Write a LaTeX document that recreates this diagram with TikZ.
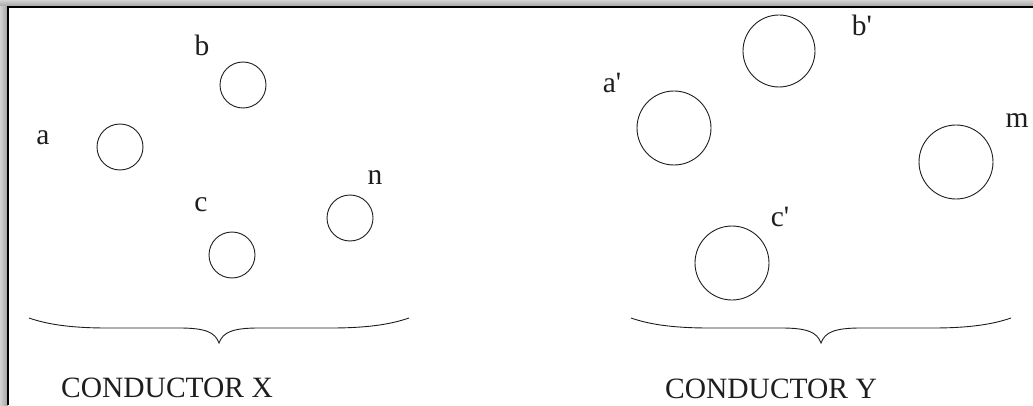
\documentclass[tikz,border=0pt]{standalone}
\usepackage{fontspec}
\setmainfont{Liberation Serif}[Ligatures=TeXOff]
\definecolor{ink}{HTML}{1E1E1E}

\begin{document}
\begin{tikzpicture}[x=1pt,y=1pt,font=\fontsize{29.5}{32}\selectfont,text=ink,wire/.style={draw=ink,line width=0.9pt},strand/.style={wire,circle,inner sep=0pt},small/.style={strand,minimum size=46pt},big/.style={strand,minimum size=74pt},lbl/.style={inner sep=0pt},
 grp/.pic={\draw[wire] (0,0) .. controls (20,-7) and (45,-10) .. (78,-10) -- (150,-10) .. controls (176,-10) and (186,-14) .. (190,-25) .. controls (194,-14) and (204,-10) .. (230,-10) -- (302,-10) .. controls (335,-10) and (360,-7) .. (380,0);}]
 \useasboundingbox (0,0) rectangle (1033,405);
 \fill[white] (0,0) rectangle (1033,405);
 % window shadow and frame
 \shade[top color=gray!35,bottom color=gray!75] (0,398) rectangle (1033,405);
 \shade[left color=gray!35,right color=gray!75] (0,0) rectangle (8,398);
 \draw[black,line width=2pt] (8,0) -- (8,398) -- (1033,398);
 % conductor X
 \node[small] (a) at (120,258) {};
 \node[small] (b) at (243,320) {};
 \node[small] (c) at (232,150) {};
 \node[small] (n) at (350,187) {};
 \node[lbl] (la) at (43,267) {a};
 \node[lbl] (lb) at (202,360) {b};
 \node[lbl] (lc) at (201,200) {c};
 \node[lbl] (ln) at (375,227) {n};
 % conductor Y
 \node[big] (ap) at (674,277) {};
 \node[big,minimum size=72pt] (bp) at (779,354) {};
 \node[big] (m) at (956,243) {};
 \node[big] (cp) at (732,142) {};
 \node[lbl] (lap) at (612,322) {a'};
 \node[lbl] (lbp) at (862,380) {b'};
 \node[lbl] (lm) at (1017,284) {m};
 \node[lbl] (lcp) at (780,188) {c'};
 % braces and captions
 \coordinate (xl) at (29,87);
 \coordinate (yl) at (631,87);
 \pic at (xl) {grp};
 \pic at (yl) {grp};
 \node[lbl,anchor=base] (capx) at (167,8) {CONDUCTOR X};
 \node[lbl,anchor=base] (capy) at (771,7) {CONDUCTOR Y};
\end{tikzpicture}
\end{document}
